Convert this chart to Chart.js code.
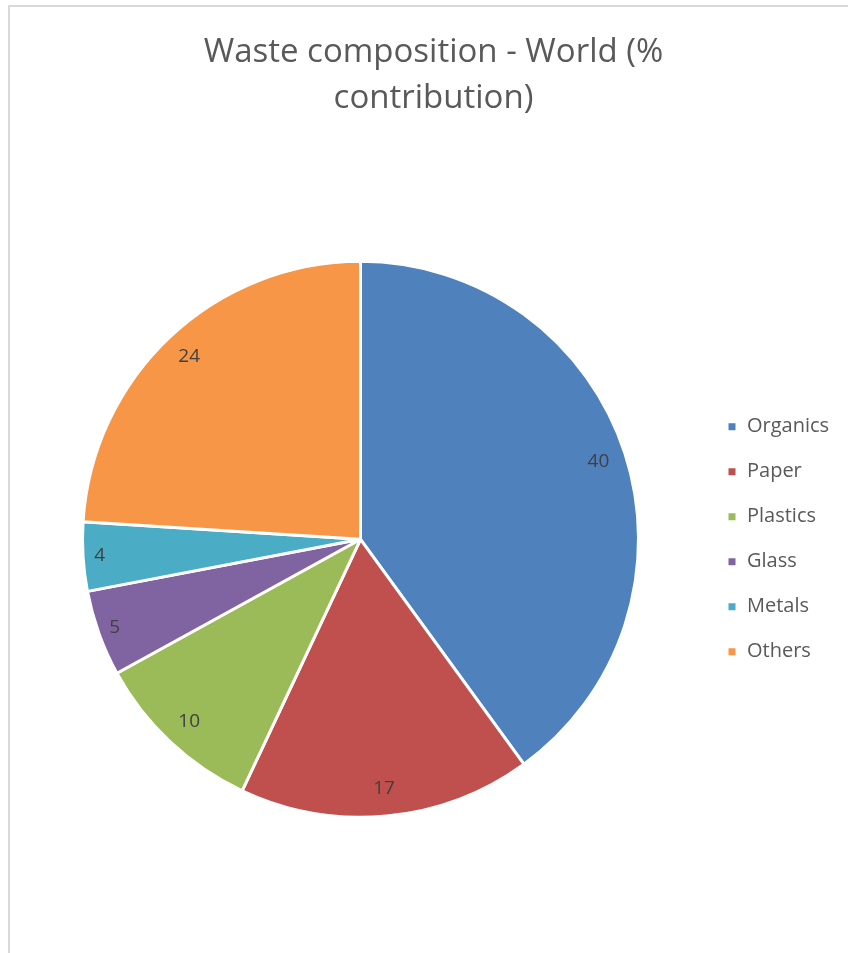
<!DOCTYPE html>
<html>
<head>
<meta charset="utf-8">
<script src="https://cdn.jsdelivr.net/npm/chart.js@4.4.1/dist/chart.umd.min.js"></script>
<style>
  html, body { margin: 0; padding: 0; background: #fff; overflow: hidden; }
  #frame {
    position: absolute; left: 8px; top: 5px; width: 900px; height: 1000px;
    border: 2px solid #d9d9d9; box-sizing: border-box;
  }
  #chart { position: absolute; left: 0; top: 0; }
</style>
</head>
<body>
<div id="frame"></div>
<canvas id="chart" width="848" height="953"></canvas>
<script>
const categories = ['Organics', 'Paper', 'Plastics', 'Glass', 'Metals', 'Others'];
const shares = [40, 17, 10, 5, 4, 24];
const sliceColors = ['#4f81bd', '#c0504d', '#9bbb59', '#8064a2', '#4bacc6', '#f79646'];
const titleLines = ['Waste composition - World (%', 'contribution)'];

const FONT = '"Open Sans", "DejaVu Sans", sans-serif';

// ancho fijo de la leyenda, para que la torta quede donde está en el original
const legendWidth = {
  id: 'legendWidth',
  beforeInit(chart) {
    const fit = chart.legend.fit;
    chart.legend.fit = function () {
      fit.call(this);
      this.width = 146;
    };
  }
};

// etiquetas de valor dentro de cada porción (las porciones finas van más afuera)
const sliceLabels = {
  id: 'sliceLabels',
  afterDatasetsDraw(chart) {
    const ctx = chart.ctx;
    const meta = chart.getDatasetMeta(0);
    ctx.save();
    ctx.font = '19px ' + FONT;
    ctx.fillStyle = '#404040';
    ctx.textAlign = 'center';
    ctx.textBaseline = 'middle';
    meta.data.forEach((arc, i) => {
      const p = arc.getProps(['x', 'y', 'startAngle', 'endAngle', 'outerRadius'], true);
      const mid = (p.startAngle + p.endAngle) / 2;
      const narrow = (p.endAngle - p.startAngle) < 0.4;
      const r = p.outerRadius * (narrow ? 0.94 : 0.9);
      ctx.fillText(String(shares[i]), p.x + Math.cos(mid) * r, p.y + Math.sin(mid) * r);
    });
    ctx.restore();
  }
};

new Chart(document.getElementById('chart'), {
  type: 'pie',
  data: {
    labels: categories,
    datasets: [{
      data: shares,
      backgroundColor: sliceColors,
      borderColor: '#ffffff',
      borderWidth: 3,
      radius: 278,
    }]
  },
  options: {
    responsive: false,
    animation: false,
    layout: { padding: { left: 19, right: 0, top: 0, bottom: 75 } },
    plugins: {
      title: {
        display: true,
        text: titleLines,
        color: '#595959',
        font: { family: FONT, size: 33, weight: 'normal', lineHeight: 1.38 },
        padding: { top: 30, bottom: 79.5 },
      },
      legend: {
        position: 'right',
        fullSize: false,
        labels: {
          color: '#595959',
          font: { family: FONT, size: 20 },
          boxWidth: 10,
          boxHeight: 10,
          padding: 25,
        }
      },
      tooltip: { enabled: false },
    }
  },
  plugins: [legendWidth, sliceLabels]
});
</script>
</body>
</html>
